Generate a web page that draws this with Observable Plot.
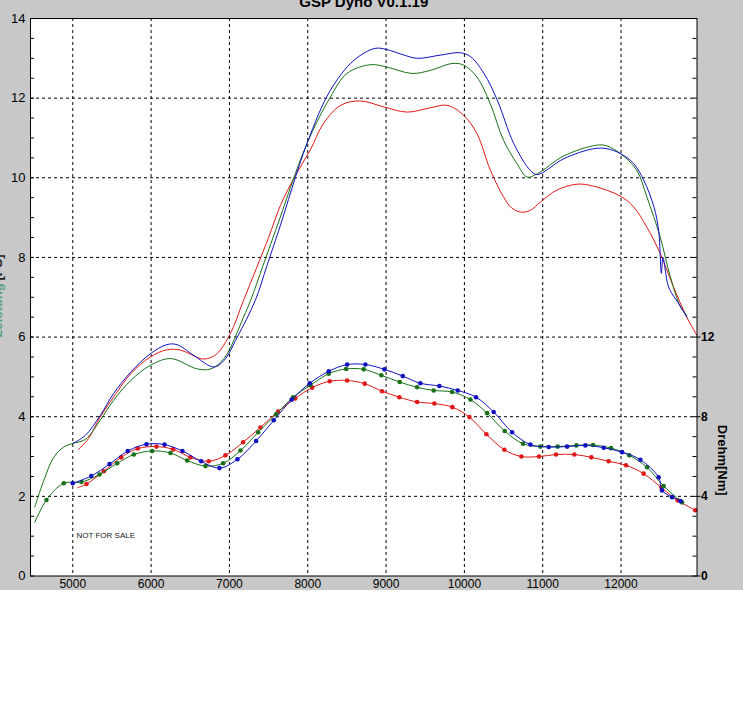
<!DOCTYPE html>
<html>
<head>
<meta charset="utf-8">
<script src="https://cdn.jsdelivr.net/npm/d3@7"></script>
<script src="https://cdn.jsdelivr.net/npm/@observablehq/plot@0.6"></script>
<style>
  html, body { margin: 0; padding: 0; background: white; }
  #chart svg { display: block; }
</style>
</head>
<body>
<div id="chart"></div>
<script>
// ---- tick labels ----
const rpmTicks = [5000, 6000, 7000, 8000, 9000, 10000, 11000, 12000];
const psTicks = [0, 2, 4, 6, 8, 10, 12, 14];
const psGrid = [2, 4, 6, 8, 10, 12];
const psMinor = d3.range(0, 14.01, 0.5);
const nmTicks = [0, 4, 8, 12];
const nmMinor = d3.range(0, 28.01, 1);

// ---- power [PS] (upper curves) ----
const bluePowerRpm = [5000, 5160, 5350, 5520, 5740, 5990, 6200, 6330, 6545, 6800, 6930, 7100, 7330, 7480, 7630, 7990, 8290, 8590, 8860, 9010, 9200, 9400, 9690, 9950, 10080, 10250, 10420, 10630, 10840, 10930, 11270, 11650, 11820, 11990, 12160, 12290, 12420, 12480, 12515, 12535, 12600, 12650, 12750, 12840];
const bluePowerPs  = [3.33, 3.53, 4.03, 4.58, 5.12, 5.58, 5.81, 5.81, 5.54, 5.25, 5.41, 6.0, 6.92, 7.8, 8.68, 10.86, 12.2, 12.95, 13.25, 13.22, 13.1, 13.0, 13.08, 13.14, 13.04, 12.62, 11.95, 10.86, 10.19, 10.08, 10.48, 10.73, 10.73, 10.61, 10.36, 9.94, 9.27, 8.68, 7.6, 8.0, 7.3, 7.09, 6.8, 6.5];

const greenPowerRpm = [4515, 4630, 4757, 4885, 5000, 5160, 5350, 5520, 5740, 5990, 6250, 6590, 6760, 6930, 7180, 7270, 7430, 7590, 7990, 8290, 8500, 8800, 9010, 9330, 9570, 9840, 9990, 10160, 10330, 10500, 10670, 10800, 10930, 11270, 11690, 11820, 11990, 12200, 12330, 12500, 12630, 12760, 12840];
const greenPowerPs  = [1.73, 2.4, 2.98, 3.24, 3.33, 3.43, 3.91, 4.41, 4.91, 5.29, 5.46, 5.2, 5.2, 5.46, 6.5, 6.92, 7.8, 8.68, 10.86, 12.03, 12.62, 12.84, 12.78, 12.62, 12.7, 12.87, 12.83, 12.53, 11.86, 10.94, 10.36, 10.02, 10.1, 10.55, 10.82, 10.8, 10.61, 10.19, 9.52, 8.51, 7.51, 6.75, 6.54];

const redPowerRpm = [5070, 5200, 5350, 5540, 5740, 5990, 6200, 6380, 6630, 6720, 6840, 7010, 7180, 7500, 7650, 7840, 8030, 8200, 8420, 8670, 8970, 9270, 9570, 9780, 9990, 10160, 10330, 10500, 10600, 10715, 10840, 10970, 11180, 11440, 11650, 11990, 12160, 12330, 12500, 12670, 12840, 12970];
const redPowerPs  = [3.17, 3.45, 3.99, 4.55, 5.08, 5.5, 5.68, 5.67, 5.46, 5.46, 5.58, 6.08, 6.92, 8.5, 9.3, 10.05, 10.69, 11.36, 11.82, 11.93, 11.78, 11.65, 11.76, 11.82, 11.57, 11.11, 10.2, 9.52, 9.25, 9.14, 9.18, 9.39, 9.69, 9.84, 9.79, 9.54, 9.27, 8.76, 8.1, 7.26, 6.5, 6.04];

// ---- torque [Nm] (lower curves, right axis) ----
const blueTorqueRpm = [5000, 5235, 5469, 5702, 5941, 6171, 6400, 6639, 6873, 7102, 7341, 7566, 7796, 8026, 8268, 8503, 8736, 8979, 9213, 9438, 9681, 9915, 10149, 10374, 10609, 10843, 11077, 11311, 11545, 11779, 12013, 12247, 12480, 12523, 12651, 12760];
const blueTorqueNm  = [4.66, 5.02, 5.62, 6.28, 6.62, 6.60, 6.28, 5.76, 5.42, 5.86, 6.78, 7.82, 8.86, 9.68, 10.28, 10.62, 10.62, 10.38, 10.04, 9.68, 9.54, 9.32, 8.98, 8.24, 7.22, 6.60, 6.48, 6.50, 6.56, 6.44, 6.22, 5.84, 4.96, 4.30, 3.96, 3.76];

const greenTorqueRpm = [4515, 4664, 4885, 5111, 5341, 5567, 5779, 6013, 6247, 6460, 6694, 6920, 7141, 7367, 7596, 7813, 8034, 8268, 8490, 8715, 8940, 9174, 9396, 9608, 9843, 10077, 10290, 10515, 10749, 10970, 11191, 11430, 11643, 11873, 12106, 12332, 12544, 12779];
const greenTorqueNm  = [2.70, 3.82, 4.66, 4.72, 5.10, 5.66, 6.10, 6.28, 6.18, 5.80, 5.52, 5.66, 6.30, 7.22, 8.12, 8.98, 9.58, 10.16, 10.40, 10.38, 10.08, 9.74, 9.48, 9.32, 9.24, 8.86, 8.18, 7.28, 6.64, 6.50, 6.50, 6.56, 6.58, 6.42, 6.06, 5.46, 4.52, 3.70];

const redTorqueRpm = [5064, 5175, 5396, 5618, 5830, 6068, 6281, 6502, 6736, 6949, 7175, 7396, 7621, 7840, 8056, 8280, 8503, 8727, 8949, 9170, 9396, 9617, 9847, 10064, 10281, 10511, 10728, 10953, 11170, 11404, 11621, 11842, 12064, 12289, 12515, 12723, 12948];
const redTorqueNm  = [4.44, 4.62, 5.26, 5.96, 6.40, 6.50, 6.36, 5.96, 5.76, 6.06, 6.72, 7.46, 8.26, 8.92, 9.46, 9.78, 9.82, 9.66, 9.28, 8.98, 8.74, 8.66, 8.48, 7.98, 7.12, 6.34, 6.00, 6.00, 6.10, 6.10, 5.96, 5.76, 5.56, 5.14, 4.44, 3.80, 3.30];

const colors = { red: "#e01818", green: "#187018", blue: "#1010c0" };

const power = (rpm, ps) => rpm.map((r, i) => ({ rpm: r, ps: ps[i] }));
const torque = (rpm, nm) => rpm.map((r, i) => ({ rpm: r, nm: nm[i] }));

const series = [
  { c: colors.red,   p: power(redPowerRpm, redPowerPs),     t: torque(redTorqueRpm, redTorqueNm),     skip: 1 },
  { c: colors.green, p: power(greenPowerRpm, greenPowerPs), t: torque(greenTorqueRpm, greenTorqueNm), skip: 1 },
  { c: colors.blue,  p: power(bluePowerRpm, bluePowerPs),   t: torque(blueTorqueRpm, blueTorqueNm),   skip: 0 }
];

const W = 743, H = 590, ML = 30, MR = 46.5, MT = 18, MB = 14.5;
const frameW = W - ML - MR;

const seriesMarks = series.flatMap(s => [
  Plot.line(s.p, { x: "rpm", y: "ps", stroke: s.c, strokeWidth: 1, curve: "catmull-rom" }),
  Plot.line(s.t, { x: "rpm", y: d => d.nm / 2, stroke: s.c, strokeWidth: 1, curve: "catmull-rom" }),
  Plot.dot(s.t.slice(s.skip), { x: "rpm", y: d => d.nm / 2, fill: s.c, r: 2.3 })
]);

const chart = Plot.plot({
  width: W, height: H,
  marginLeft: ML, marginRight: MR, marginTop: MT, marginBottom: MB,
  style: { background: "#c8c8c8", fontFamily: "'Liberation Sans', Arial, sans-serif", fontSize: "12px", color: "black" },
  x: { domain: [4460, 12970], axis: null },
  y: { domain: [0, 14], axis: null },
  marks: [
    Plot.frame({ fill: "white", stroke: null }),
    Plot.ruleX(rpmTicks, { x: d => d, stroke: "black", strokeDasharray: "3,3" }),
    Plot.ruleY(psGrid, { y: d => d, stroke: "black", strokeDasharray: "3,3" }),
    Plot.tickY(psMinor, { y: d => d, stroke: "black", insetRight: frameW - 4 }),
    Plot.tickY(nmMinor, { y: d => d / 2, stroke: "black", insetLeft: frameW - 4 }),
    Plot.tickY(nmTicks, { y: d => d / 2, stroke: "black", insetLeft: frameW, insetRight: -4 }),
    ...seriesMarks,
    Plot.frame({ stroke: "black" }),
    Plot.axisX(rpmTicks, { anchor: "bottom", tickSize: 0, tickPadding: 3, fontSize: 12, tickFormat: d => String(d), label: null }),
    Plot.axisY(psTicks, { anchor: "left", tickSize: 0, tickPadding: 5, fontSize: 13, tickFormat: d => String(d), label: null }),
    Plot.axisY(nmTicks.map(d => d / 2), { anchor: "right", tickSize: 0, tickPadding: 4, fontSize: 12, fontWeight: "bold", tickFormat: d => String(d * 2), label: null }),
    Plot.text(["Drehm[Nm]"], { frameAnchor: "right", dx: 25, dy: 163, rotate: 90, fontWeight: "bold", fontSize: 13, textAnchor: "middle", lineAnchor: "middle" }),
    Plot.text(["GSP Dyno V0.1.19"], { frameAnchor: "top", dy: -12, fontWeight: "bold", fontSize: 15, textAnchor: "middle", lineAnchor: "bottom" }),
    Plot.text(["NOT FOR SALE"], { frameAnchor: "bottom-left", dx: 46, dy: -41, textAnchor: "start", lineAnchor: "middle", fontSize: 8, fill: "#222" }),
    Plot.text(["Leistung"], { frameAnchor: "top-left", dx: -33, dy: 292, rotate: -90, fontWeight: "bold", fontSize: 13, fill: "#5aa080", textAnchor: "middle", lineAnchor: "middle" }),
    Plot.text(["[PS]"], { frameAnchor: "top-left", dx: -33, dy: 249, rotate: -90, fontWeight: "bold", fontSize: 13, fill: "#222", textAnchor: "middle", lineAnchor: "middle" })
  ]
});
document.getElementById("chart").appendChild(chart);
</script>
</body>
</html>
